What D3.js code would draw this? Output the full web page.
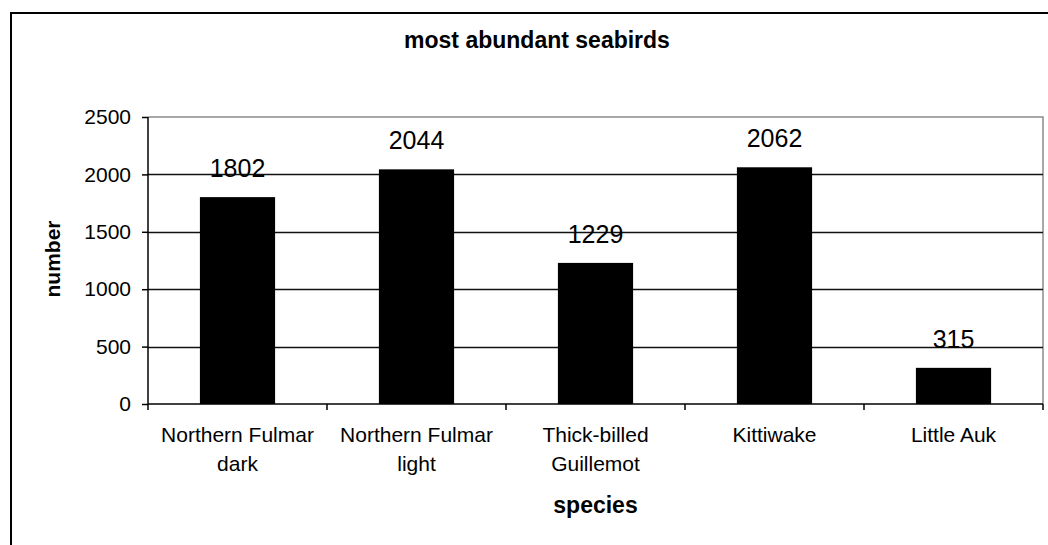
<!DOCTYPE html>
<html>
<head>
<meta charset="utf-8">
<script src="https://cdn.jsdelivr.net/npm/d3@7"></script>
<style>
  html, body { margin: 0; padding: 0; background: #fff; }
  svg { display: block; }
  text { font-family: "Liberation Sans", Arial, sans-serif; fill: #000; }
</style>
</head>
<body>
<svg id="chart" width="1048" height="545"></svg>
<script>
// Seabird counts by species
const species = [
  ["Northern Fulmar", "dark"],
  ["Northern Fulmar", "light"],
  ["Thick-billed", "Guillemot"],
  ["Kittiwake"],
  ["Little Auk"]
];
const counts = [1802, 2044, 1229, 2062, 315];
const yTicks = [0, 500, 1000, 1500, 2000, 2500];
const chartTitle = "most abundant seabirds";
const xTitle = "species";
const yTitle = "number";

const svg = d3.select("#chart");
const plot = { left: 148, right: 1043, top: 117, bottom: 404 };

// Outer chart frame (continues past the right and bottom edges)
svg.append("rect")
  .attr("x", 11).attr("y", 13)
  .attr("width", 1100).attr("height", 600)
  .attr("fill", "none").attr("stroke", "#000").attr("stroke-width", 2);

const keys = species.map((d, i) => i);
const x = d3.scaleBand().domain(keys).range([plot.left, plot.right]).padding(0);
const y = d3.scaleLinear().domain([0, 2500]).range([plot.bottom, plot.top]);

// Plot-area frame (top and right edges in grey)
svg.append("path")
  .attr("d", `M${plot.left},${plot.top}H${plot.right}V${plot.bottom}`)
  .attr("fill", "none").attr("stroke", "#8c8c8c").attr("stroke-width", 1.5);

// Horizontal gridlines
svg.append("g")
  .selectAll("line")
  .data(yTicks.filter(t => t > 0 && t < 2500))
  .join("line")
  .attr("x1", plot.left).attr("x2", plot.right)
  .attr("y1", d => Math.round(y(d)) + 0.5).attr("y2", d => Math.round(y(d)) + 0.5)
  .attr("stroke", "#111").attr("stroke-width", 1.3);

// Bars
const barW = x.bandwidth() * 0.42;
svg.append("g")
  .selectAll("rect")
  .data(counts)
  .join("rect")
  .attr("x", (d, i) => x(i) + (x.bandwidth() - barW) / 2)
  .attr("y", d => y(d))
  .attr("width", barW)
  .attr("height", d => y(0) - y(d))
  .attr("fill", "#000");

// Value labels
svg.append("g")
  .selectAll("text")
  .data(counts)
  .join("text")
  .attr("x", (d, i) => x(i) + x.bandwidth() / 2)
  .attr("y", d => y(d) - 20)
  .attr("text-anchor", "middle")
  .style("font-size", "25px")
  .text(d => d);

// Y axis
const yAxis = svg.append("g")
  .attr("transform", `translate(${plot.left},0)`)
  .call(d3.axisLeft(y).tickValues(yTicks).tickSize(6).tickPadding(11).tickFormat(d3.format("d")));
yAxis.selectAll("text").style("font-size", "21px").attr("fill", "#000");
yAxis.selectAll("line, path").attr("stroke", "#000").attr("stroke-width", 1.5);
yAxis.select(".domain").attr("d", `M0,${plot.top}V${plot.bottom}`);

// X axis: ticks at category boundaries
const xAxis = svg.append("g").attr("transform", `translate(0,${plot.bottom})`);
xAxis.append("line")
  .attr("x1", plot.left).attr("x2", plot.right)
  .attr("y1", 0).attr("y2", 0)
  .attr("stroke", "#000").attr("stroke-width", 1.5);
const bounds = keys.map(k => x(k)).concat([plot.right]);
xAxis.selectAll("line.tick")
  .data(bounds)
  .join("line")
  .attr("class", "tick")
  .attr("x1", d => d).attr("x2", d => d)
  .attr("y1", 0).attr("y2", 6)
  .attr("stroke", "#000").attr("stroke-width", 1.5);

// Category labels (two lines where needed)
const catG = svg.append("g");
species.forEach((lines, i) => {
  const t = catG.append("text")
    .attr("x", x(i) + x.bandwidth() / 2)
    .attr("y", 442)
    .attr("text-anchor", "middle")
    .style("font-size", "21px");
  lines.forEach((ln, j) => {
    t.append("tspan")
      .attr("x", x(i) + x.bandwidth() / 2)
      .attr("dy", j === 0 ? 0 : 29)
      .text(ln);
  });
});

// Titles
svg.append("text")
  .attr("x", 537).attr("y", 48)
  .attr("text-anchor", "middle")
  .style("font-size", "23px").style("font-weight", "bold")
  .text(chartTitle);

svg.append("text")
  .attr("x", x(2) + x.bandwidth() / 2).attr("y", 513)
  .attr("text-anchor", "middle")
  .style("font-size", "23px").style("font-weight", "bold")
  .text(xTitle);

svg.append("text")
  .attr("transform", `translate(60,259) rotate(-90)`)
  .attr("text-anchor", "middle")
  .style("font-size", "21px").style("font-weight", "bold")
  .text(yTitle);
</script>
</body>
</html>
